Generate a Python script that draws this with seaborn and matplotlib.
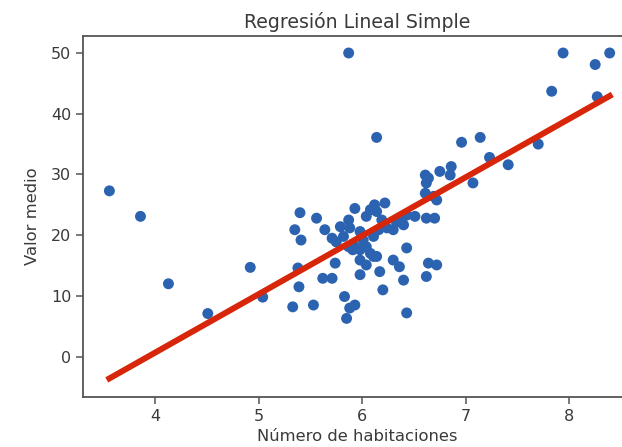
import numpy as np
import pandas as pd
import matplotlib
matplotlib.use("Agg")
import matplotlib.pyplot as plt
import seaborn as sns

# Número de habitaciones (x) and Valor medio (y)
habitaciones = [
    3.56, 3.86, 4.13, 4.51, 4.92, 5.04,
    5.40, 5.56, 5.35, 5.41, 5.38, 5.39, 5.33, 5.53, 5.62, 5.71,
    5.64, 5.71, 5.74, 5.79, 5.87, 5.93, 5.83, 5.93, 5.88, 5.85,
    5.98, 6.04, 6.08, 6.12, 6.22, 6.04, 5.98, 5.93, 6.11, 6.14,
    6.17, 6.20, 6.24, 6.33, 6.40, 6.43, 6.51, 6.62, 6.70, 6.43,
    6.30, 6.36, 6.40, 6.43, 6.64, 6.72, 6.62, 6.61, 6.62, 6.75,
    6.86, 7.07, 6.72, 6.61,
    5.82, 5.87, 5.91, 5.98, 6.04, 6.08, 6.11, 6.16, 6.19, 5.88,
    5.75, 5.98, 6.01, 6.14, 6.30, 6.36, 6.69, 6.64,
    5.87, 6.14, 6.96, 7.14, 7.94, 8.39, 8.25, 7.83, 8.27, 7.70,
    7.23, 7.41, 6.85,
]
valor_medio = [
    27.3, 23.1, 12.0, 7.1, 14.7, 9.8,
    23.7, 22.8, 20.9, 19.2, 14.6, 11.5, 8.2, 8.5, 12.9, 12.9,
    20.9, 19.5, 15.4, 21.4, 22.5, 24.4, 9.9, 8.5, 8.0, 6.3,
    13.5, 15.1, 24.2, 25.0, 25.3, 23.1, 20.6, 18.1, 19.8, 16.5,
    14.0, 11.0, 21.2, 22.2, 21.7, 23.3, 23.1, 22.8, 22.8, 17.9,
    15.9, 14.8, 12.6, 7.2, 15.4, 15.1, 13.2, 29.9, 28.6, 30.5,
    31.3, 28.6, 25.8, 26.9,
    19.8, 18.1, 17.6, 17.6, 18.1, 17.0, 16.5, 20.9, 22.5, 21.2,
    18.9, 15.9, 19.2, 23.9, 20.9, 22.2, 26.4, 29.4,
    50.0, 36.1, 35.3, 36.1, 50.0, 50.0, 48.1, 43.7, 42.8, 35.0,
    32.8, 31.6, 29.9,
]

# fitted model
pendiente = 9.63
intercepto = -37.87

titulo = "Regresión Lineal Simple"
etiqueta_x = "Número de habitaciones"
etiqueta_y = "Valor medio"
ticks_x = [4, 5, 6, 7, 8]
ticks_y = [0, 10, 20, 30, 40, 50]

df = pd.DataFrame({"x": habitaciones, "y": valor_medio})
x_sorted = np.sort(df["x"].to_numpy())
linea = pd.DataFrame({"x": x_sorted, "y": pendiente * x_sorted + intercepto})

plt.rcParams["font.family"] = ["DejaVu Sans"]
text_color = "#3a3a3a"
spine_color = "#555555"

fig = plt.figure(figsize=(6.22, 4.47), dpi=100)
ax = fig.add_axes([0.1334, 0.1119, 0.8826, 0.8076])

sns.scatterplot(data=df, x="x", y="y", ax=ax, color="#2b63b0",
                s=62, edgecolor="none", linewidth=0, zorder=2)
sns.lineplot(data=linea, x="x", y="y", ax=ax, color="#d8260a",
             linewidth=4.3, zorder=3, estimator=None, sort=True)

ax.set_xlim(3.305, 8.605)
ax.set_ylim(-6.64, 52.8)
ax.set_xticks(ticks_x)
ax.set_yticks(ticks_y)
ax.set_title(titulo, fontsize=13.6, color=text_color, pad=6)
ax.set_xlabel(etiqueta_x, fontsize=11.8, color=text_color, labelpad=4)
ax.set_ylabel(etiqueta_y, fontsize=11.8, color=text_color, labelpad=8)
ax.tick_params(axis="both", labelsize=11.5, colors=spine_color,
               labelcolor=text_color, length=5, width=1.1)
for sp in ax.spines.values():
    sp.set_color(spine_color)
    sp.set_linewidth(1.3)

fig.savefig("out.png", dpi=100)
